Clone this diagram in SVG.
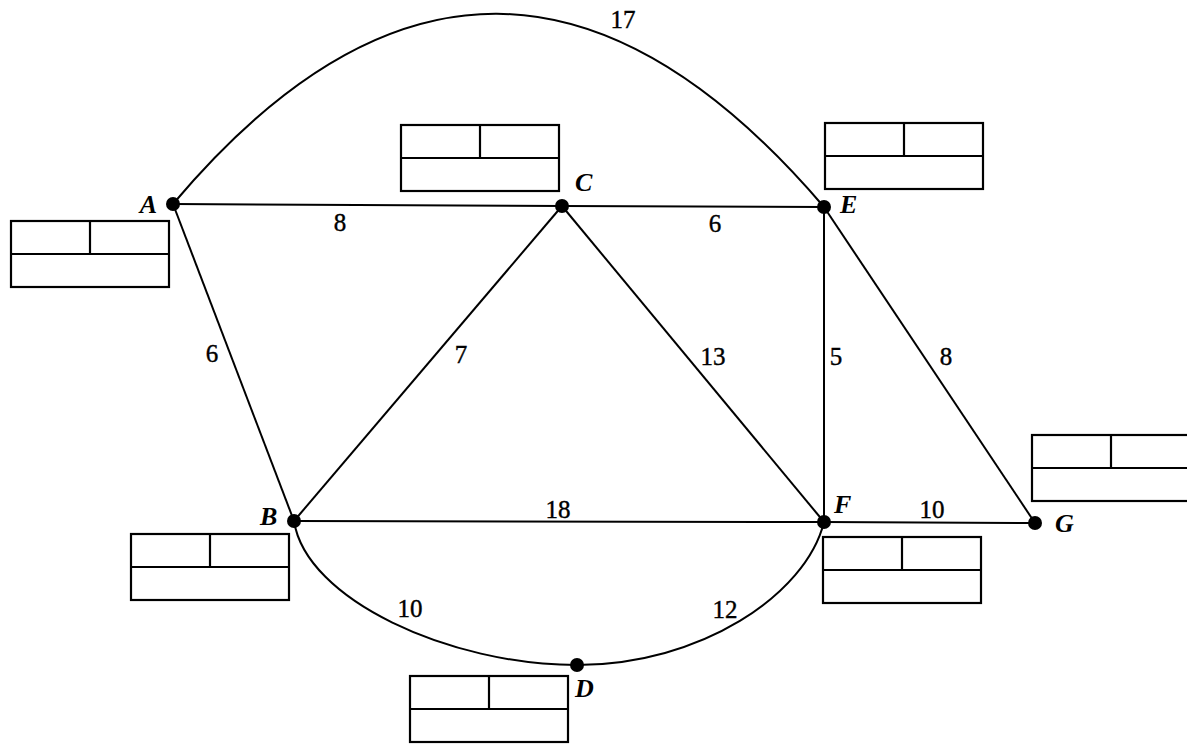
<svg xmlns="http://www.w3.org/2000/svg" xmlns:xlink="http://www.w3.org/1999/xlink" width="1187" height="744" viewBox="0 0 1187 744">
<style>
.edge{fill:none;stroke:#000;stroke-width:2}
.box{fill:none;stroke:#000;stroke-width:2.2}
.dot{fill:#000}
.lbl{font-family:"Liberation Serif","DejaVu Serif",serif;font-style:italic;font-weight:bold;font-size:26px;fill:#000}
.w{font-family:"Liberation Serif","DejaVu Serif",serif;font-size:25px;fill:#000;stroke:#000;stroke-width:0.4;text-anchor:middle}
</style>
<defs>
<g id="box">
<rect class="box" x="0" y="0" width="158" height="66"/>
<line class="box" x1="0" y1="33" x2="158" y2="33"/>
<line class="box" x1="79" y1="0" x2="79" y2="33"/>
</g>
</defs>
<rect width="1187" height="744" fill="#fff"/>
<g id="connectors">
<path class="edge" d="M173,204 Q495,-178 824,207"/>
<line class="edge" x1="173" y1="204" x2="562" y2="206"/>
<line class="edge" x1="562" y1="206" x2="824" y2="207"/>
<line class="edge" x1="173" y1="204" x2="294" y2="521"/>
<line class="edge" x1="562" y1="206" x2="294" y2="521"/>
<line class="edge" x1="562" y1="206" x2="824" y2="522"/>
<line class="edge" x1="824" y1="207" x2="824" y2="522"/>
<line class="edge" x1="824" y1="207" x2="1035" y2="523"/>
<line class="edge" x1="294" y1="521" x2="824" y2="522"/>
<line class="edge" x1="824" y1="522" x2="1035" y2="523"/>
<path class="edge" d="M294,521 C306,600 450,665 577,665"/>
<path class="edge" d="M577,665 C700,665 806,595 824,522"/>
<text class="w" x="623" y="28">17</text>
<text class="w" x="340" y="231">8</text>
<text class="w" x="715" y="232">6</text>
<text class="w" x="212" y="362">6</text>
<text class="w" x="461" y="363">7</text>
<text class="w" x="713" y="365">13</text>
<text class="w" x="836" y="365">5</text>
<text class="w" x="946" y="365">8</text>
<text class="w" x="558" y="518">18</text>
<text class="w" x="932" y="518">10</text>
<text class="w" x="410" y="617">10</text>
<text class="w" x="725" y="618">12</text>
</g>
<g id="node-A">
<circle class="dot" cx="173" cy="204" r="7"/>
<text class="lbl" x="157" y="213" text-anchor="end">A</text>
<use xlink:href="#box" x="11" y="221"/>
</g>
<g id="node-C">
<circle class="dot" cx="562" cy="206" r="7"/>
<text class="lbl" x="575" y="191">C</text>
<use xlink:href="#box" x="401" y="125"/>
</g>
<g id="node-E">
<circle class="dot" cx="824" cy="207" r="7"/>
<text class="lbl" x="840" y="213">E</text>
<use xlink:href="#box" x="825" y="123"/>
</g>
<g id="node-B">
<circle class="dot" cx="294" cy="521" r="7"/>
<text class="lbl" x="260" y="525">B</text>
<use xlink:href="#box" x="131" y="534"/>
</g>
<g id="node-F">
<circle class="dot" cx="824" cy="522" r="7"/>
<text class="lbl" x="834" y="513">F</text>
<use xlink:href="#box" x="823" y="537"/>
</g>
<g id="node-G">
<circle class="dot" cx="1035" cy="523" r="7"/>
<text class="lbl" x="1055" y="532">G</text>
<use xlink:href="#box" x="1032" y="435"/>
</g>
<g id="node-D">
<circle class="dot" cx="577" cy="665" r="7"/>
<text class="lbl" x="575" y="697">D</text>
<use xlink:href="#box" x="410" y="676"/>
</g>
</svg>
